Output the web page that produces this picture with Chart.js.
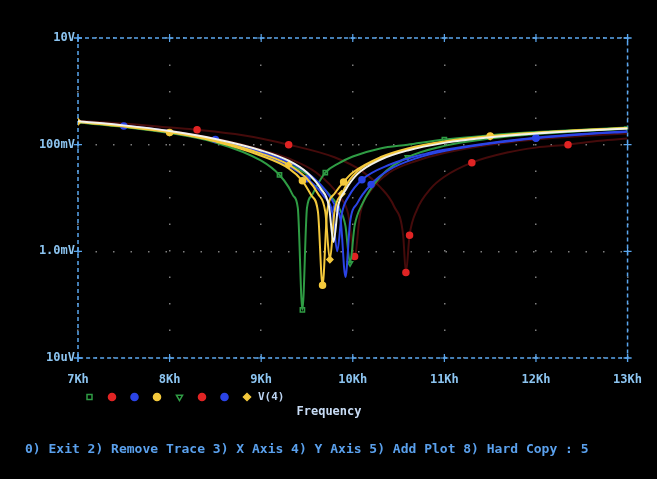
<!DOCTYPE html>
<html>
<head>
<meta charset="utf-8">
<title>Probe - V(4)</title>
<script src="https://cdn.jsdelivr.net/npm/chart.js@4/dist/chart.umd.min.js"></script>
<style>
  html, body { margin: 0; padding: 0; background: #000; }
  canvas { display: block; background: #000; }
</style>
</head>
<body>
<canvas id="probe" width="657" height="479"></canvas>
<script>
// axis ticks
const xTicks = [7, 8, 9, 10, 11, 12, 13];
const xTickLabels = ['7Kh', '8Kh', '9Kh', '10Kh', '11Kh', '12Kh', '13Kh'];
const yTicks = [10, 0.1, 0.001, 0.00001];
const yTickLabels = ['10V', '100mV', '1.0mV', '10uV'];

// traces, frequency in kHz, V(4) in volts
const greenAFreq = [7.0, 7.5, 8.0, 8.5, 9.0, 9.2, 9.3, 9.35, 9.4, 9.45, 9.5, 9.55, 9.6, 9.7, 9.85, 10.0, 10.3, 10.6, 11.0, 11.5, 12.0, 12.5, 13.0];
const greenAVolts = [0.26, 0.215, 0.165, 0.11, 0.05, 0.027, 0.016, 0.011, 0.0065, 0.00008, 0.0065, 0.011, 0.016, 0.03, 0.045, 0.06, 0.085, 0.1, 0.125, 0.15, 0.172, 0.19, 0.21];

const yellowAFreq = [7.0, 7.5, 8.0, 8.5, 9.0, 9.3, 9.45, 9.55, 9.62, 9.67, 9.72, 9.8, 9.9, 10.0, 10.3, 10.6, 11.0, 11.5, 12.0, 12.5, 13.0];
const yellowAVolts = [0.265, 0.22, 0.17, 0.115, 0.062, 0.036, 0.021, 0.011, 0.0055, 0.00023, 0.0055, 0.012, 0.02, 0.03, 0.058, 0.085, 0.115, 0.145, 0.168, 0.188, 0.205];

const yellowBFreq = [7.0, 7.5, 8.0, 8.5, 9.0, 9.3, 9.5, 9.62, 9.7, 9.75, 9.8, 9.88, 10.0, 10.3, 10.6, 11.0, 11.5, 12.0, 12.5, 13.0];
const yellowBVolts = [0.268, 0.224, 0.174, 0.12, 0.068, 0.042, 0.023, 0.012, 0.0055, 0.0007, 0.0055, 0.012, 0.026, 0.055, 0.082, 0.112, 0.142, 0.166, 0.186, 0.205];

const whiteFreq = [7.0, 7.5, 8.0, 8.5, 9.0, 9.3, 9.5, 9.65, 9.74, 9.79, 9.84, 9.92, 10.05, 10.3, 10.6, 11.0, 11.5, 12.0, 12.5, 13.0];
const whiteVolts = [0.275, 0.23, 0.18, 0.128, 0.078, 0.05, 0.03, 0.015, 0.007, 0.0015, 0.007, 0.014, 0.028, 0.052, 0.078, 0.108, 0.138, 0.162, 0.182, 0.2];

const blueBFreq = [7.0, 7.5, 8.0, 8.5, 9.0, 9.3, 9.5, 9.68, 9.78, 9.83, 9.88, 9.96, 10.1, 10.4, 10.8, 11.0, 11.5, 12.0, 12.5, 13.0];
const blueBVolts = [0.27, 0.225, 0.172, 0.118, 0.066, 0.04, 0.023, 0.011, 0.005, 0.001, 0.005, 0.011, 0.022, 0.042, 0.068, 0.08, 0.108, 0.135, 0.158, 0.178];

const blueAFreq = [7.0, 7.5, 8.0, 8.5, 9.0, 9.3, 9.5, 9.7, 9.82, 9.87, 9.92, 9.97, 10.05, 10.2, 10.4, 10.7, 11.0, 11.5, 12.0, 12.5, 13.0];
const blueAVolts = [0.27, 0.228, 0.178, 0.125, 0.072, 0.047, 0.03, 0.014, 0.0065, 0.0035, 0.00033, 0.0035, 0.008, 0.018, 0.034, 0.056, 0.076, 0.105, 0.132, 0.155, 0.175];

const greenBFreq = [7.0, 7.5, 8.0, 8.5, 9.0, 9.3, 9.5, 9.7, 9.85, 9.92, 9.97, 10.02, 10.1, 10.3, 10.6, 11.0, 11.5, 12.0, 12.5, 13.0];
const greenBVolts = [0.265, 0.22, 0.17, 0.118, 0.066, 0.043, 0.028, 0.014, 0.0065, 0.003, 0.0006, 0.003, 0.0075, 0.025, 0.058, 0.095, 0.13, 0.158, 0.18, 0.2];

const redAFreq = [7.0, 7.5, 8.0, 8.3, 8.8, 9.3, 9.8, 10.1, 10.3, 10.45, 10.55, 10.58, 10.62, 10.7, 10.85, 11.0, 11.3, 11.7, 12.0, 12.35, 12.7, 13.0];
const redAVolts = [0.28, 0.25, 0.21, 0.19, 0.15, 0.1, 0.058, 0.032, 0.016, 0.007, 0.002, 0.0004, 0.002, 0.006, 0.015, 0.025, 0.046, 0.072, 0.088, 0.1, 0.118, 0.13];

const redBFreq = [7.0, 7.5, 8.0, 8.5, 9.0, 9.3, 9.6, 9.85, 9.95, 10.02, 10.08, 10.2, 10.4, 10.7, 11.0, 11.5, 12.0, 12.5, 13.0];
const redBVolts = [0.272, 0.232, 0.182, 0.13, 0.08, 0.055, 0.03, 0.011, 0.005, 0.0008, 0.005, 0.014, 0.03, 0.05, 0.07, 0.1, 0.125, 0.145, 0.162];

const MONO = '"DejaVu Sans Mono", "Liberation Mono", monospace';
const GREEN = '#2f9c44';
const RED = '#e02424';
const RED_LINE = 'rgba(125, 20, 20, 0.55)';
const BLUE = '#2b44e6';
const YELLOW = '#f4c93c';
const WHITE = '#f2f2ea';
const AXIS_BLUE = '#5aa6ee';

function pts(f, v) {
    return f.map((x, i) => ({ x: x, y: v[i] }));
}

// marks: indices of the points that carry a marker symbol
function trace(f, v, color, lineColor, style, marks, rotation) {
    return {
        data: pts(f, v),
        borderColor: lineColor || color,
        backgroundColor: color,
        pointBorderColor: color,
        pointBackgroundColor: (style === 'rect' || style === 'triangle') ? 'rgba(0,0,0,0)' : color,
        pointBorderWidth: 1.5,
        pointStyle: style,
        rotation: rotation || 0,
        borderWidth: 2,
        cubicInterpolationMode: 'monotone',
        marks: marks,
        pointRadius: c => (c.dataset.marks.includes(c.index) ? 3 : 0),
        pointHoverRadius: 0
    };
}

// legend markers, same order as on the screen
const legendMarks = [
    { color: GREEN, style: 'rect', hollow: true, rot: 0 },
    { color: RED, style: 'circle', hollow: false, rot: 0 },
    { color: BLUE, style: 'circle', hollow: false, rot: 0 },
    { color: YELLOW, style: 'circle', hollow: false, rot: 0 },
    { color: GREEN, style: 'triangle', hollow: true, rot: 180 },
    { color: RED, style: 'circle', hollow: false, rot: 0 },
    { color: BLUE, style: 'circle', hollow: false, rot: 0 },
    { color: YELLOW, style: 'rectRot', hollow: false, rot: 0 }
];

// dotted frame + crosses like the Probe screen
const probeFrame = {
    id: 'probeFrame',
    beforeDatasetsDraw(chart) {
        const { ctx, chartArea: a, scales } = chart;
        ctx.save();
        ctx.strokeStyle = AXIS_BLUE;
        ctx.lineWidth = 1.5;
        ctx.setLineDash([4, 3]);
        ctx.strokeRect(a.left, a.top, a.right - a.left, a.bottom - a.top);
        ctx.setLineDash([]);
        ctx.lineWidth = 1.2;
        const c = 4;
        xTicks.forEach(t => {
            const x = scales.x.getPixelForValue(t);
            [a.top, a.bottom].forEach(y => {
                ctx.beginPath();
                ctx.moveTo(x - c, y); ctx.lineTo(x + c, y);
                ctx.moveTo(x, y - c); ctx.lineTo(x, y + c);
                ctx.stroke();
            });
        });
        yTicks.forEach(t => {
            const y = scales.y.getPixelForValue(t);
            [a.left, a.right].forEach(x => {
                ctx.beginPath();
                ctx.moveTo(x - c, y); ctx.lineTo(x + c, y);
                ctx.moveTo(x, y - c); ctx.lineTo(x, y + c);
                ctx.stroke();
            });
        });
        ctx.restore();
    }
};

new Chart(document.getElementById('probe'), {
    type: 'line',
    data: {
        datasets: [
            trace(whiteFreq, whiteVolts, WHITE, null, 'circle', []),
            trace(yellowAFreq, yellowAVolts, YELLOW, null, 'circle', [2, 6, 9, 12, 17]),
            trace(yellowBFreq, yellowBVolts, YELLOW, null, 'rectRot', [0, 5, 9, 11, 16]),
            trace(blueAFreq, blueAVolts, BLUE, null, 'circle', [3, 8, 13, 18]),
            trace(blueBFreq, blueBVolts, BLUE, null, 'circle', [1, 6, 12, 17]),
            trace(greenAFreq, greenAVolts, GREEN, null, 'rect', [5, 9, 13, 18]),
            trace(greenBFreq, greenBVolts, GREEN, null, 'triangle', [2, 10, 14, 19], 180),
            trace(redBFreq, redBVolts, RED, RED_LINE, 'circle', [9]),
            trace(redAFreq, redAVolts, RED, RED_LINE, 'circle', [3, 5, 11, 12, 16, 19])
        ]
    },
    options: {
        responsive: false,
        animation: false,
        devicePixelRatio: 1,
        layout: { padding: { left: 25, right: 24, top: 38, bottom: 0 } },
        plugins: {
            tooltip: { enabled: false },
            legend: {
                position: 'bottom',
                align: 'start',
                fullSize: false,
                maxHeight: 19,
                labels: {
                    usePointStyle: true,
                    boxHeight: 5,
                    padding: 6,
                    color: '#bcd4f2',
                    font: { family: MONO, size: 11, weight: 'bold' },
                    generateLabels: () => legendMarks.map((m, i) => ({
                        text: i === legendMarks.length - 1 ? 'V(4)' : '',
                        fillStyle: m.hollow ? 'rgba(0,0,0,0)' : m.color,
                        strokeStyle: m.color,
                        lineWidth: 1.5,
                        pointStyle: m.style,
                        rotation: m.rot,
                        fontColor: '#bcd4f2',
                        hidden: false,
                        datasetIndex: 0
                    }))
                }
            },
            subtitle: {
                display: true,
                position: 'bottom',
                text: 'Frequency',
                color: '#c8dcf5',
                font: { family: MONO, size: 12, weight: 'bold' },
                padding: { top: 0, bottom: 0 }
            },
            title: {
                display: true,
                position: 'bottom',
                align: 'start',
                text: '0) Exit 2) Remove Trace 3) X Axis 4) Y Axis 5) Add Plot 8) Hard Copy : 5',
                color: '#5aa0ec',
                font: { family: MONO, size: 13, weight: 'bold' },
                padding: { top: 22.5, bottom: 22 }
            }
        },
        scales: {
            x: {
                type: 'linear',
                min: 7,
                max: 13,
                afterBuildTicks: s => { s.ticks = xTicks.map(v => ({ value: v })); },
                afterFit: s => { s.height = 27.5; },
                ticks: {
                    padding: 15,
                    color: '#8cc4f0',
                    font: { family: MONO, size: 12, weight: 'bold' },
                    maxRotation: 0,
                    callback: v => xTickLabels[xTicks.indexOf(v)]
                },
                grid: { color: 'rgba(180,180,180,0.7)', lineWidth: 1.5, drawTicks: false },
                border: { display: false, dash: [1.5, 25] }
            },
            y: {
                type: 'logarithmic',
                min: 0.00001,
                max: 10,
                afterBuildTicks: s => { s.ticks = yTicks.map(v => ({ value: v })); },
                afterFit: s => { s.width = 53; },
                ticks: {
                    padding: 3,
                    color: '#8cc4f0',
                    font: { family: MONO, size: 12, weight: 'bold' },
                    callback: v => yTickLabels[yTicks.indexOf(v)]
                },
                grid: { color: 'rgba(180,180,180,0.7)', lineWidth: 1.5, drawTicks: false },
                border: { display: false, dash: [1.5, 16] }
            }
        }
    },
    plugins: [probeFrame]
});
</script>
</body>
</html>
